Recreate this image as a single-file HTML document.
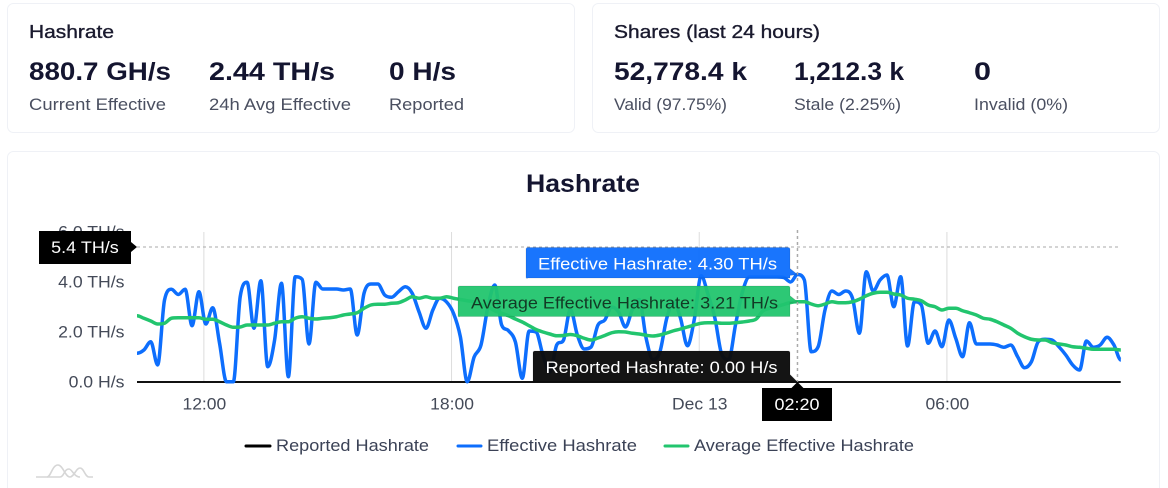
<!DOCTYPE html>
<html lang="en">
<head>
<meta charset="utf-8">
<title>Hashrate dashboard</title>
<style>
html,body{margin:0;padding:0;background:#fff;width:1168px;height:488px;overflow:hidden}
svg{display:block;font-family:"Liberation Sans",Arial,sans-serif}
.h{font-size:18px;fill:#1a1a2e;stroke:#1a1a2e;stroke-width:.35px}
.v{font-size:25px;font-weight:700;fill:#141530}
.l{font-size:16.5px;fill:#4a4f60}
.ax{font-size:16.5px;fill:#444a58}
.lg{font-size:16.5px;fill:#3b4256}
.tt{font-size:16.5px}
</style>
</head>
<body>
<svg id="page" width="1168" height="488" viewBox="0 0 1168 488" xmlns="http://www.w3.org/2000/svg">
  <g>
    <rect x="7.5" y="3.5" width="567" height="129" rx="6" fill="#fff" stroke="#eff1f6"/>
    <text class="h" x="29" y="38" textLength="85" lengthAdjust="spacingAndGlyphs">Hashrate</text>
    <text class="v" x="29" y="80" textLength="142" lengthAdjust="spacingAndGlyphs">880.7 GH/s</text>
    <text class="l" x="29" y="110" textLength="137" lengthAdjust="spacingAndGlyphs">Current Effective</text>
    <text class="v" x="209" y="80" textLength="126" lengthAdjust="spacingAndGlyphs">2.44 TH/s</text>
    <text class="l" x="209" y="110" textLength="142" lengthAdjust="spacingAndGlyphs">24h Avg Effective</text>
    <text class="v" x="389" y="80" textLength="67" lengthAdjust="spacingAndGlyphs">0 H/s</text>
    <text class="l" x="389" y="110" textLength="75" lengthAdjust="spacingAndGlyphs">Reported</text>
  </g>
  <g>
    <rect x="592.5" y="3.5" width="567" height="129" rx="6" fill="#fff" stroke="#eff1f6"/>
    <text class="h" x="614" y="38" textLength="206" lengthAdjust="spacingAndGlyphs">Shares (last 24 hours)</text>
    <text class="v" x="614" y="80" textLength="133" lengthAdjust="spacingAndGlyphs">52,778.4 k</text>
    <text class="l" x="614" y="110" textLength="113" lengthAdjust="spacingAndGlyphs">Valid (97.75%)</text>
    <text class="v" x="794" y="80" textLength="110" lengthAdjust="spacingAndGlyphs">1,212.3 k</text>
    <text class="l" x="794" y="110" textLength="107" lengthAdjust="spacingAndGlyphs">Stale (2.25%)</text>
    <text class="v" x="974" y="80" textLength="17" lengthAdjust="spacingAndGlyphs">0</text>
    <text class="l" x="974" y="110" textLength="94" lengthAdjust="spacingAndGlyphs">Invalid (0%)</text>
  </g>
  <g>
    <rect x="7.5" y="151.5" width="1152" height="345" rx="6" fill="#fff" stroke="#eff1f6"/>
    <text x="583" y="192" text-anchor="middle" font-size="25" font-weight="700" fill="#141530" textLength="114" lengthAdjust="spacingAndGlyphs">Hashrate</text>
  </g>
  <g id="chart"></g>
  <g>
    <g>
      <line x1="246" x2="270" y1="446" y2="446" stroke="#000" stroke-width="3" stroke-linecap="round"/>
      <text class="lg" x="276" y="451" textLength="153" lengthAdjust="spacingAndGlyphs">Reported Hashrate</text>
    </g>
    <g>
      <line x1="458" x2="481" y1="446" y2="446" stroke="#0d6efd" stroke-width="3" stroke-linecap="round"/>
      <text class="lg" x="487" y="451" textLength="150" lengthAdjust="spacingAndGlyphs">Effective Hashrate</text>
    </g>
    <g>
      <line x1="665" x2="688" y1="446" y2="446" stroke="#22c56e" stroke-width="3" stroke-linecap="round"/>
      <text class="lg" x="694" y="451" textLength="220" lengthAdjust="spacingAndGlyphs">Average Effective Hashrate</text>
    </g>
  </g>
  <g fill="none" stroke="#d6d6d6" stroke-width="1.6">
    <path d="M36 477H47C51 477 52 465 58 465C63 465 65 477 70 477C74 477 76 468 80 468C84 468 85 477 89 477H93"/>
    <path d="M47 477H60C64 477 64 469 69 469C72 469 74 477 80 477"/>
  </g>
</svg>
<script>
const startHour = 10.38;
const stepHours = 1 / 6;
const effectiveHashrate = [
1.15,1.28,1.61,0.68,3.28,3.71,3.5,3.71,2.25,3.61,2.32,2.97,1.55,0.01,0.01,3.41,3.99,2.15,4.05,0.61,
1.68,3.95,0.21,4.21,4.11,1.52,3.99,3.72,3.72,3.72,3.68,3.72,1.88,3.55,3.92,3.92,3.48,3.39,3.61,3.81,
3.55,2.8,2.15,2.88,3.35,3.2,2.75,1.81,0.01,1.0,1.48,3.0,3.88,2.28,2.05,1.6,0.15,2.04,2.0,1.08,
0.4,1.48,1.68,2.9,1.88,1.32,1.4,2.28,2.48,3.0,2.8,2.2,2.9,3.3,1.75,0.9,1.2,2.55,3.2,2.55,
1.45,2.5,4.25,3.5,2.55,1.1,0.9,2.3,3.6,4.2,4.2,4.2,4.2,4.2,4.18,4.0,4.3,4.08,1.21,1.41,
2.88,3.64,3.5,3.64,3.35,1.95,4.41,3.64,4.08,4.28,3.01,4.21,1.44,3.21,3.08,1.55,2.04,1.41,2.48,1.75,
1.01,2.37,1.52,1.52,1.52,1.48,1.39,1.48,1.01,0.57,0.81,1.61,1.71,1.68,1.41,1.08,0.68,0.48,1.64,1.39,
1.48,1.79,1.48,0.88
];
const averageHashrate = [
2.65,2.55,2.44,2.32,2.35,2.55,2.57,2.57,2.57,2.57,2.51,2.51,2.41,2.28,2.19,2.2,2.28,2.28,2.28,2.28,
2.35,2.41,2.41,2.55,2.61,2.55,2.52,2.55,2.57,2.61,2.68,2.72,2.77,2.95,3.08,3.11,3.11,3.15,3.17,3.28,
3.41,3.35,3.41,3.35,3.35,3.41,3.35,3.3,3.25,3.2,3.1,3.0,2.85,2.75,2.65,2.52,2.4,2.25,2.1,2.0,
1.92,1.85,1.86,1.9,1.85,1.75,1.68,1.76,1.86,1.97,2.01,2.0,1.95,1.92,1.87,1.84,1.88,1.96,2.05,2.12,
2.2,2.28,2.35,2.37,2.37,2.35,2.35,2.37,2.4,2.44,2.52,2.85,2.95,3.02,3.1,3.18,3.21,3.21,3.12,3.05,
3.12,3.21,3.17,3.17,3.21,3.31,3.45,3.55,3.59,3.59,3.52,3.48,3.35,3.31,3.25,3.08,3.01,2.88,2.95,2.95,
2.85,2.77,2.68,2.55,2.51,2.41,2.28,2.15,1.95,1.81,1.71,1.68,1.68,1.57,1.52,1.48,1.41,1.39,1.35,1.31,
1.31,1.31,1.31,1.28
];
const reportedHashrate = [0,0];
const reportedHours = [10.38,34.21];
const xTickHours = [12,18,24,30];
const xTickLabels = ["12:00","18:00","Dec 13","06:00"];
const yTickValues = [0,2,4,6];
const yTickLabels = ["0.0 H/s","2.0 TH/s","4.0 TH/s","6.0 TH/s"];
const hoverIndex = 96;
const hoverValue = 5.4;
const hoverTimeLabel = "02:20";
const hoverEffective = "4.30 TH/s";
const hoverAverage = "3.21 TH/s";
const hoverReported = "0.00 H/s";

const NS = "http://www.w3.org/2000/svg";
const chart = document.getElementById("chart");
function xScale(h){ return 137 + (h - startHour) * 41.28; }
function yScale(v){ return 382 - v * 25; }
function make(tag, parent, props, text){
  const n = document.createElementNS(NS, tag);
  for (const k in props) n.setAttribute(k, props[k]);
  if (text !== undefined) n.textContent = text;
  parent.appendChild(n);
  return n;
}
function widen(node, factor){
  node.setAttribute("textLength", (node.getComputedTextLength() * factor).toFixed(1));
  node.setAttribute("lengthAdjust", "spacingAndGlyphs");
}
function smoothPath(pts){
  const n = pts.length, m = [];
  for (let i = 0; i < n; i++){
    if (i === 0 || i === n - 1){ m.push(0); continue; }
    const a = (pts[i][1] - pts[i-1][1]) / (pts[i][0] - pts[i-1][0]);
    const b = (pts[i+1][1] - pts[i][1]) / (pts[i+1][0] - pts[i][0]);
    if (a * b <= 0){ m.push(0); continue; }
    const mag = Math.min(3 * Math.min(Math.abs(a), Math.abs(b)), (Math.abs(a) + Math.abs(b)) / 2);
    m.push(a > 0 ? mag : -mag);
  }
  let d = "M" + pts[0][0].toFixed(2) + " " + pts[0][1].toFixed(2);
  for (let i = 0; i < n - 1; i++){
    const dx = (pts[i+1][0] - pts[i][0]) / 3;
    d += "C" + (pts[i][0] + dx).toFixed(2) + " " + (pts[i][1] + m[i] * dx).toFixed(2) + " " +
      (pts[i+1][0] - dx).toFixed(2) + " " + (pts[i+1][1] - m[i+1] * dx).toFixed(2) + " " +
      pts[i+1][0].toFixed(2) + " " + pts[i+1][1].toFixed(2);
  }
  return d;
}
function seriesPoints(values){
  return values.map(function(v, i){ return [xScale(startHour + i * stepHours), yScale(v)]; });
}

xTickHours.forEach(function(h, i){
  const g = make("line", chart, {x1:xScale(h), x2:xScale(h), y1:yScale(6), y2:yScale(0), stroke:"#dcdcdc", "stroke-width":1});
  
  
  const t = make("text", chart, {x:xScale(h) + 0.5, y:yScale(0) + 27.5, "text-anchor":"middle", "class":"ax"}, xTickLabels[i]);
  
  
  widen(t, 1.06);
});
yTickValues.forEach(function(v, i){
  const t = make("text", chart, {x:124.5, y:yScale(v) + 5.5, "text-anchor":"end", "class":"ax"}, yTickLabels[i]);
  
  
  widen(t, 1.07);
});

const reportedLine = make("line", chart, {x1:xScale(reportedHours[0]), x2:xScale(reportedHours[1]), y1:yScale(reportedHashrate[0]), y2:yScale(reportedHashrate[1]), stroke:"#111", "stroke-width":2});



const effectiveLine = make("path", chart, {d:smoothPath(seriesPoints(effectiveHashrate)), fill:"none", stroke:"#0d6efd", "stroke-width":3.5, "stroke-linejoin":"round"});



const averageLine = make("path", chart, {d:smoothPath(seriesPoints(averageHashrate)), fill:"none", stroke:"#22c56e", "stroke-width":3.5, "stroke-linejoin":"round"});



const hx = xScale(startHour + hoverIndex * stepHours);
const crossH = make("line", chart, {x1:137, x2:1118, y1:yScale(hoverValue), y2:yScale(hoverValue), stroke:"#aaa", "stroke-width":1, "stroke-dasharray":"3 3"});


const crossV = make("line", chart, {x1:hx, x2:hx, y1:230, y2:yScale(0), stroke:"#aaa", "stroke-width":1.5, "stroke-dasharray":"3 3"});



const yBadge = make("path", chart, {d:"M39 231H131V"+(yScale(hoverValue)-5)+"L137 "+yScale(hoverValue)+"L131 "+(yScale(hoverValue)+5)+"V264H39Z", fill:"#000"});


const yBadgeText = make("text", chart, {x:85, y:253, "text-anchor":"middle", fill:"#fff", "class":"tt"}, hoverValue.toFixed(1) + " TH/s");


widen(yBadgeText, 1.09);

const xBadge = make("path", chart, {d:"M762 388H"+(hx-6)+"L"+hx+" 382L"+(hx+6)+" 388H832V421H762Z", fill:"#000"});


const xBadgeText = make("text", chart, {x:797, y:410, "text-anchor":"middle", fill:"#fff", "class":"tt"}, hoverTimeLabel);


widen(xBadgeText, 1.09);

function tipPath(left, top, bottom, right, tipX, tipY){
  const ay = Math.min(bottom - 2, Math.max(top + 6, tipY));
  return "M" + (left + 2) + " " + top + "H" + (right - 2) + "Q" + right + " " + top + " " + right + " " + (top + 2) +
    "V" + (ay - 6) + "L" + tipX + " " + tipY + "L" + right + " " + (ay + 1 > bottom ? bottom : ay + 1) +
    "V" + (bottom - 1) + "H" + (left + 2) + "Q" + left + " " + bottom + " " + left + " " + (bottom - 2) + "V" + (top + 2) + "Q" + left + " " + top + " " + (left + 2) + " " + top + "Z";
}
const tipEff = make("path", chart, {d:tipPath(526,247.5,279,790,hx,yScale(effectiveHashrate[hoverIndex])), fill:"#0d6efd", "fill-opacity":.95, stroke:"#000", "stroke-opacity":.1});


const tipEffText = make("text", chart, {x:538, y:269.5, fill:"#fff", "class":"tt", textLength:239, lengthAdjust:"spacingAndGlyphs"}, "Effective Hashrate: " + hoverEffective);



const tipAvg = make("path", chart, {d:tipPath(458,286,317.5,790,hx,yScale(averageHashrate[hoverIndex])), fill:"#22c56e", "fill-opacity":.95, stroke:"#000", "stroke-opacity":.1});


const tipAvgText = make("text", chart, {x:471, y:308.5, fill:"#123a25", "class":"tt", textLength:307, lengthAdjust:"spacingAndGlyphs"}, "Average Effective Hashrate: " + hoverAverage);



const tipRep = make("path", chart, {d:tipPath(533,351,382.5,790,hx,yScale(0)), fill:"#0c0c0c", "fill-opacity":.97, stroke:"#000", "stroke-opacity":.1});


const tipRepText = make("text", chart, {x:545.5, y:373, fill:"#fff", "class":"tt", textLength:232, lengthAdjust:"spacingAndGlyphs"}, "Reported Hashrate: " + hoverReported);


</script>
</body>
</html>
